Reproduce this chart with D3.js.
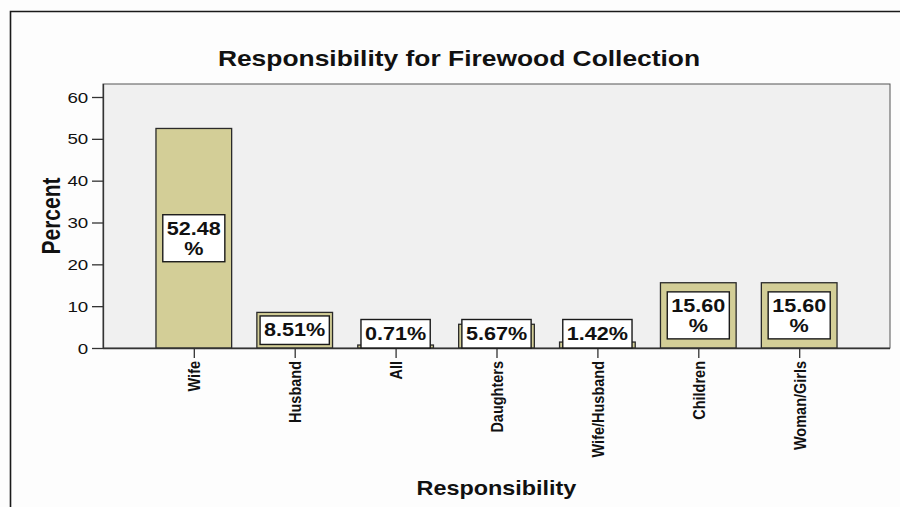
<!DOCTYPE html>
<html><head><meta charset="utf-8">
<script src="https://cdn.jsdelivr.net/npm/d3@7"></script>
<style>
html,body{margin:0;padding:0;background:#fdfdfd;}
svg{display:block;font-family:"Liberation Sans",Arial,sans-serif;}
</style></head><body>
<svg id="chart" width="900" height="507"></svg>
<script>
// Who collects the firewood, share of households (%)
const categories = ["Wife", "Husband", "All", "Daughters", "Wife/Husband", "Children", "Woman/Girls"];
const percents = [52.48, 8.51, 0.71, 5.67, 1.42, 15.60, 15.60];
const yTicks = [0, 10, 20, 30, 40, 50, 60];

const chartTitle = "Responsibility for Firewood Collection";
const xTitle = "Responsibility";
const yTitle = "Percent";

const W = 900, H = 507;
const plot = {left: 103, right: 890, top: 84, bottom: 348};
const stretch = 1.2;           // wide lettering, applied along screen x
const ink = "#111";

const svg = d3.select("#chart");

// outer frame (top and left edges)
svg.append("path")
  .attr("d", `M10.5,${H} V11.5 H${W}`)
  .attr("fill", "none").attr("stroke", "#1a1a1a").attr("stroke-width", 1.6);

const x = d3.scalePoint().domain(categories).range([plot.left, plot.right]).padding(0.9);
const y = d3.scaleLinear().domain([0, 60]).range([plot.bottom, 97]);
const barW = x.step() * 0.75;

// plot background
svg.append("rect")
  .attr("x", plot.left).attr("y", plot.top)
  .attr("width", plot.right - plot.left).attr("height", plot.bottom - plot.top)
  .attr("fill", "#f0f0f0").attr("stroke", "#555").attr("stroke-width", 1);

// bars
const data = categories.map((c, i) => ({cat: c, v: percents[i]}));
svg.append("g").selectAll("rect").data(data).join("rect")
  .attr("x", d => x(d.cat) - barW / 2)
  .attr("y", d => y(d.v))
  .attr("width", barW)
  .attr("height", d => y(0) - y(d.v))
  .attr("fill", "#d3ce97")
  .attr("stroke", "#2a2a2a").attr("stroke-width", 1.3);

// y axis
const yAxis = svg.append("g")
  .attr("transform", `translate(${plot.left},0)`)
  .call(d3.axisLeft(y).tickValues(yTicks).tickSize(11));
yAxis.select(".domain").attr("stroke", "#333").attr("stroke-width", 1.3)
  .attr("d", `M0.5,${plot.top}V${plot.bottom}`);
yAxis.selectAll(".tick line").attr("stroke", "#333").attr("stroke-width", 1.3);
yAxis.selectAll(".tick text")
  .attr("x", -11.8).attr("dy", "0.34em")
  .attr("transform", `scale(1.25,1)`)
  .attr("font-size", 15).attr("fill", ink)
  .attr("font-family", "Liberation Sans, Arial, sans-serif");

// x axis
const xAxis = svg.append("g")
  .attr("transform", `translate(0,${plot.bottom})`)
  .call(d3.axisBottom(x).tickSize(10));
xAxis.select(".domain").attr("stroke", "#333").attr("stroke-width", 1.3)
  .attr("d", `M${plot.left},0.5H${plot.right}`);
xAxis.selectAll(".tick line").attr("stroke", "#333").attr("stroke-width", 1.3);
xAxis.selectAll(".tick text")
  .attr("x", -13).attr("y", 0).attr("dy", "0.35em")
  .attr("text-anchor", "end")
  .attr("transform", `scale(${stretch},1) rotate(-90)`)
  .attr("font-size", 14.5).attr("font-weight", "bold").attr("fill", ink)
  .attr("font-family", "Liberation Sans, Arial, sans-serif");

// value labels
const fmt = d3.format(".2f");
const lblSize = 18;
const labels = svg.append("g");
data.forEach(d => {
  const txt = fmt(d.v) + "%";
  const g = labels.append("g");
  const probe = g.append("text").attr("font-size", lblSize).attr("font-weight", "bold").text(txt);
  const oneW = probe.node().getComputedTextLength() * stretch;
  probe.remove();
  const lines = (oneW + 8 > barW) ? [fmt(d.v), "%"] : [txt];
  const tw = lines.map(s => {
    const t = g.append("text").attr("font-size", lblSize).attr("font-weight", "bold").text(s);
    const w = t.node().getComputedTextLength() * stretch; t.remove(); return w;
  });
  const boxW = d3.max(tw) + 8;
  const boxH = lines.length === 2 ? 47 : 28.5;
  const barTop = y(d.v), barH = y(0) - y(d.v);
  const top = barH - 4 >= boxH ? (barTop + y(0)) / 2 - boxH / 2 : y(0) - boxH;
  const cx = x(d.cat);
  g.append("rect")
    .attr("x", cx - boxW / 2).attr("y", top)
    .attr("width", boxW).attr("height", boxH)
    .attr("fill", "#fff").attr("stroke", "#1a1a1a").attr("stroke-width", 1.4);
  lines.forEach((s, i) => {
    g.append("text")
      .attr("transform", `translate(${cx},${top + 20.5 + i * 20}) scale(${stretch},1)`)
      .attr("text-anchor", "middle")
      .attr("font-size", lblSize).attr("font-weight", "bold").attr("fill", ink)
      .text(s);
  });
});

// titles
svg.append("text")
  .attr("transform", `translate(459,66) scale(${stretch},1)`)
  .attr("text-anchor", "middle").attr("font-size", 22).attr("font-weight", "bold").attr("fill", ink)
  .text(chartTitle);

svg.append("text")
  .attr("transform", `translate(${(plot.left + plot.right) / 2},495) scale(${stretch},1)`)
  .attr("text-anchor", "middle").attr("font-size", 19.5).attr("font-weight", "bold").attr("fill", ink)
  .text(xTitle);

svg.append("text")
  .attr("transform", `translate(60,216) scale(${stretch},1) rotate(-90)`)
  .attr("text-anchor", "middle").attr("font-size", 21).attr("font-weight", "bold").attr("fill", ink)
  .text(yTitle);
</script>
</body></html>
